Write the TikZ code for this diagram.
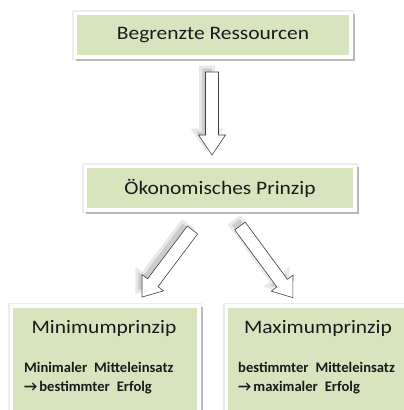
\documentclass[tikz,border=0pt]{standalone}
\usepackage{fontspec}
\setmainfont{Carlito}
\definecolor{boxgreen}{HTML}{D7E4BD}
\definecolor{txt}{HTML}{1A1A1A}
\newcommand\widewordsp{\spaceskip=0.48em plus 0pt minus 0pt\relax}
\begin{document}
\begin{tikzpicture}[x=1pt,y=-1pt,
  greenbox/.style={fill=boxgreen, draw=white, line width=3.5pt, inner sep=0pt,
    preaction={draw=black!7, line width=7pt},
    preaction={draw=gray!55, fill=gray!55, line width=3.5pt,
      transform canvas={shift={(2.5pt,-2.5pt)}}}},
  pics/barrow/.style 2 args={code={
    \path[pic actions] (0,-6.5) -- ({#1-#2},-6.5) -- ({#1-#2},-13.5) -- (#1,0)
      -- ({#1-#2},13.5) -- ({#1-#2},6.5) -- (0,6.5) -- cycle;}},
  arrowbody/.style={draw=black!75, fill=white, line width=0.6pt},
  arrowshade/.style={fill=gray!40, draw=gray!18, line width=3pt},
  titlebig/.style={text=txt, transform shape, xscale=1.13, font=\fontsize{19}{21}\selectfont},
  small/.style={text=txt, anchor=west, inner sep=0pt,
    font=\bfseries\fontsize{14.6}{16}\selectfont}
]
\useasboundingbox (0,0) rectangle (404,410);
\clip (0,0) rectangle (404,410);
\fill[white] (0,0) rectangle (404,410);

% boxes
\node[greenbox, minimum width=275.5pt, minimum height=43.5pt] (b1) at (213,35) {};
\node[titlebig] (t1) at (b1.center) {Begrenzte Ressourcen};

\node[greenbox, minimum width=269.5pt, minimum height=43.5pt] (b2) at (220,188) {};
\node[titlebig] (t2) at (b2.center) {Ökonomisches Prinzip};

\node[greenbox, minimum width=187.5pt, minimum height=140pt] (b3) at (105,376) {};
\node[greenbox, minimum width=193.5pt, minimum height=140pt] (b4) at (323,376) {};

\node[titlebig] (t3) at (104,328) {Minimumprinzip};
\node[small] (l31) at (24,367) {\widewordsp Minimaler Mitteleinsatz};
\node[small] (l32) at (24,388) {\widewordsp →\hspace{2pt}bestimmter Erfolg};

\node[titlebig] (t4) at (318,328) {Maximumprinzip};
\node[small] (l41) at (238,367) {\widewordsp bestimmter Mitteleinsatz};
\node[small] (l42) at (238,388) {\widewordsp →\hspace{2pt}maximaler Erfolg};

% arrows: shadows
\pic[arrowshade, rotate=-90] (s1) at (207,67) {barrow={83}{20}};
\pic[arrowshade, rotate=-127] (s2) at (187.5,225) {barrow={84}{18}};
\pic[arrowshade, rotate=-53.6] (s3) at (235,221) {barrow={89}{18}};

% arrows
\pic[arrowbody, rotate=-90] (a1) at (212,72) {barrow={83}{20}};
\pic[arrowbody, rotate=-127] (a2) at (192.5,230) {barrow={84}{18}};
\pic[arrowbody, rotate=-53.6] (a3) at (240,226) {barrow={89}{18}};
\end{tikzpicture}
\end{document}
